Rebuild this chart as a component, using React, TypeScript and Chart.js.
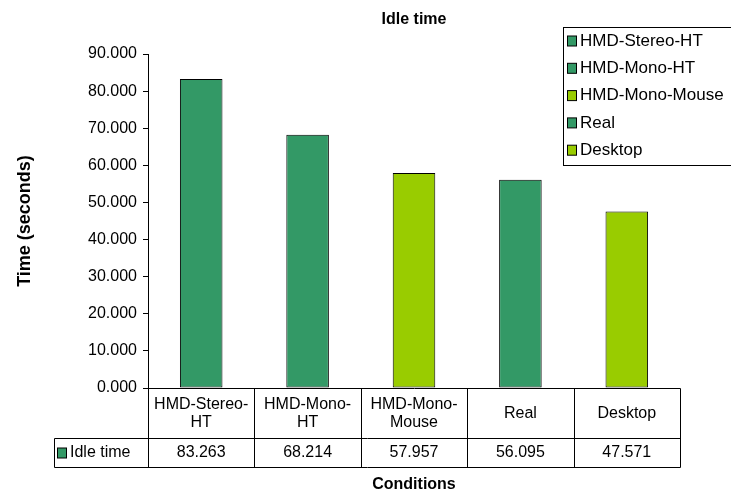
import React, { useEffect, useRef } from "react";
import { Chart, registerables } from "chart.js";

Chart.register(...registerables);

const categories = ["HMD-Stereo-HT", "HMD-Mono-HT", "HMD-Mono-Mouse", "Real", "Desktop"];
const headerLabels = [["HMD-Stereo-", "HT"], ["HMD-Mono-", "HT"], ["HMD-Mono-", "Mouse"], ["Real"], ["Desktop"]];
const idleTime = [83.263, 68.214, 57.957, 56.095, 47.571];
const barColors = ["#339966", "#339966", "#99CC00", "#339966", "#99CC00"];
const seriesName = "Idle time";
const chartTitle = "Idle time";
const yTitle = "Time (seconds)";
const xTitle = "Conditions";
const yMin = 0;
const yMax = 90;
const yStep = 10;

const FONT = "'Liberation Sans', Arial, sans-serif";

const tablePlugin = {
  id: "excelTable",
  afterDraw(chart: any) {
    const ctx = chart.ctx;
    const x = chart.scales.x;
    const area = chart.chartArea;
    const n = categories.length;
    const colW = (area.right - area.left) / n;
    const top = Math.round(area.bottom) + 0.5;
    const rowLine = top + 50;
    const bottom = top + 79;
    const leftCell = 54.5;
    ctx.save();
    ctx.strokeStyle = "#000";
    ctx.lineWidth = 1;
    ctx.beginPath();
    ctx.moveTo(Math.round(area.left) + 0.5, top);
    ctx.lineTo(Math.round(area.right) + 0.5, top);
    ctx.moveTo(leftCell, rowLine);
    ctx.lineTo(Math.round(area.right) + 0.5, rowLine);
    ctx.moveTo(leftCell, bottom);
    ctx.lineTo(Math.round(area.right) + 0.5, bottom);
    ctx.moveTo(leftCell, rowLine);
    ctx.lineTo(leftCell, bottom);
    for (let i = 0; i <= n; i++) {
      const px = Math.round(area.left + i * colW) + 0.5;
      ctx.moveTo(px, i === 0 ? area.bottom : top);
      ctx.lineTo(px, bottom);
    }
    ctx.stroke();

    ctx.fillStyle = "#000";
    ctx.font = `16px ${FONT}`;
    ctx.textAlign = "center";
    ctx.textBaseline = "middle";
    const lh = 18;
    categories.forEach((c, i) => {
      const cx = x.getPixelForValue(i);
      const lines = headerLabels[i];
      const mid = (top + rowLine) / 2;
      lines.forEach((ln, j) => {
        ctx.fillText(ln, cx, mid + (j - (lines.length - 1) / 2) * lh);
      });
      ctx.fillText(idleTime[i].toFixed(3), cx, (rowLine + bottom) / 2);
    });
    const ky = (rowLine + bottom) / 2;
    ctx.fillStyle = barColors[0];
    ctx.fillRect(57.5, ky - 5, 9, 10);
    ctx.strokeRect(57.5, ky - 5, 9, 10);
    ctx.fillStyle = "#000";
    ctx.textAlign = "left";
    ctx.fillText(seriesName, 70, ky);

    ctx.font = `bold 16px ${FONT}`;
    ctx.textAlign = "center";
    ctx.fillText(xTitle, (area.left + area.right) / 2, 485);
    ctx.fillText(chartTitle, (area.left + area.right) / 2, 20);

    ctx.font = `17px ${FONT}`;
    ctx.textAlign = "left";
    ctx.strokeRect(563.5, 27.5, 200, 138);
    categories.forEach((c, i) => {
      const cy = 41 + i * 27.3;
      ctx.fillStyle = barColors[i];
      ctx.fillRect(567.5, cy - 5, 9, 10);
      ctx.strokeStyle = "#000";
      ctx.strokeRect(567.5, cy - 5, 9, 10);
      ctx.fillStyle = "#000";
      ctx.fillText(c, 580, cy);
    });
    ctx.restore();
  },
};

export default function App() {
  const ref = useRef<HTMLCanvasElement>(null);
  useEffect(() => {
    const canvas = ref.current!;
    const chart = new Chart(canvas, {
      type: "bar",
      data: {
        labels: categories,
        datasets: [
          {
            label: seriesName,
            data: idleTime,
            backgroundColor: barColors,
            borderColor: "#000",
            borderWidth: 1,
            borderSkipped: false,
            barPercentage: 0.4,
            categoryPercentage: 1,
          },
        ],
      },
      options: {
        animation: false,
        responsive: false,
        devicePixelRatio: 1,
        layout: { padding: { top: 54, right: 51, bottom: 106, left: 0 } },
        plugins: {
          legend: { display: false },
          title: { display: false },
          tooltip: { enabled: false },
        },
        scales: {
          x: { display: false, offset: true },
          y: {
            min: yMin,
            max: yMax,
            afterFit: (s: any) => {
              s.width = 148;
            },
            ticks: {
              stepSize: yStep,
              color: "#000",
              padding: 6,
              font: { family: FONT, size: 16 },
              callback: (v: any) => Number(v).toFixed(3),
            },
            grid: {
              drawOnChartArea: false,
              drawTicks: true,
              tickLength: 5,
              color: "#000",
            },
            border: { display: true, color: "#000", width: 1 },
            title: {
              display: true,
              text: yTitle,
              color: "#000",
              font: { family: FONT, size: 18, weight: "bold" },
              padding: { top: 14, bottom: 0 },
            },
          },
        },
      },
      plugins: [tablePlugin],
    });
    return () => chart.destroy();
  }, []);
  return (
    <div style={{ position: "absolute", left: 0, top: 0, width: 731, height: 494, background: "#fff" }}>
      <canvas ref={ref} width={731} height={494} style={{ display: "block" }} />
    </div>
  );
}
